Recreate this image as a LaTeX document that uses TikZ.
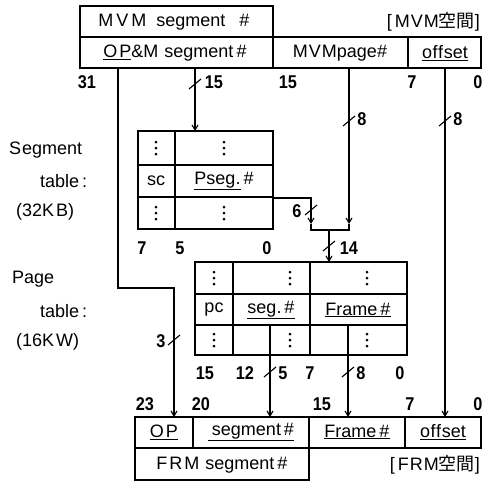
\documentclass[tikz,border=0pt]{standalone}
\usepackage{fontspec}
\setmainfont{Liberation Sans}
\newfontfamily\cjk{Noto Sans CJK JP}
\newfontfamily\nf[FakeStretch=0.88]{Liberation Sans}
\usetikzlibrary{arrows.meta}
\tikzset{
  box/.style={draw, line width=1.4pt},
  lbl/.style={font=\fontsize{18}{18}\selectfont, inner sep=0pt},
  num/.style={font=\fontsize{18.5}{18.5}\selectfont\nf\bfseries, inner sep=0pt},
  wire/.style={line width=1.1pt},
  arr/.style={wire,-{Straight Barb[length=5pt,width=6pt]}},
  dotthree/.pic={\fill (0,-6) circle (1.5) (0,0) circle (1.5) (0,6) circle (1.5);},
  bustick/.pic={\draw[line width=1.1pt] (-6,5) -- (6,-5);},
}
\begin{document}
\begin{tikzpicture}[x=1pt,y=-1pt]
\useasboundingbox (0,0) rectangle (488,482);
% ---------- MVM address ----------
\draw[box] (80,6) rectangle (273,37);
\draw[box] (80,37) rectangle (481,68);
\draw[box] (273,37) -- (273,68) (408,37) -- (408,68);
\node[lbl] (mvmseg) at (174,22) {M\hspace{3pt}V\hspace{3pt}M\hspace{10pt}segment\hspace{14pt}\#};
\node[lbl,anchor=east] (mvmsp) at (480,22) {[\,M\hspace{1pt}V\hspace{1pt}M{\cjk 空間}]};
\node[lbl] (opm) at (175,53) {\underline{O\hspace{2pt}P}\&M\hspace{6pt}segment\,\#};
\node[lbl] (mvmpg) at (340,53) {M\hspace{1pt}V\hspace{1pt}Mpage\#};
\node[lbl] (moff) at (445,53) {\underline{o\hspace{0.5pt}f\hspace{0.5pt}f\hspace{0.5pt}set}};
\node[num] (b31) at (87,82) {31};
\node[num] (b15a) at (214,82) {15};
\node[num] (b15b) at (288,82) {15};
\node[num] (b7a) at (412,82) {7};
\node[num] (b0a) at (478,82) {0};
% ---------- left labels ----------
\node[lbl,anchor=west] (segl1) at (9,150) {S\hspace{1pt}egment};
\node[lbl,anchor=west] (segl2) at (40,181) {table\hspace{3pt}:};
\node[lbl,anchor=west] (segl3) at (16,212) {(32K\hspace{2pt}B)};
\node[lbl,anchor=west] (pgl1) at (12,279) {Page};
\node[lbl,anchor=west] (pgl2) at (40,311) {table\hspace{3pt}:};
\node[lbl,anchor=west] (pgl3) at (16,342) {(16K\hspace{2pt}W)};
% ---------- segment table ----------
\draw[box] (138,131) rectangle (273,229);
\draw[box] (138,165) -- (273,165) (138,197) -- (273,197) (175,131) -- (175,229);
\pic at (156,148) {dotthree};
\pic at (224,148) {dotthree};
\pic at (156,213) {dotthree};
\pic at (224,213) {dotthree};
\node[lbl] (sc) at (156,181) {sc};
\node[lbl] (pseg) at (224,181) {\underline{Pseg.}\,\#};
\node[num] (s7) at (142,248) {7};
\node[num] (s5) at (180,248) {5};
\node[num] (s0) at (267,248) {0};
% ---------- page table ----------
\draw[box] (195,262) rectangle (407,355);
\draw[box] (195,294) -- (407,294) (195,325) -- (407,325) (233,262) -- (233,355) (310,262) -- (310,355);
\pic at (214,278) {dotthree};
\pic at (290,278) {dotthree};
\pic at (367,278) {dotthree};
\pic at (214,340) {dotthree};
\pic at (290,340) {dotthree};
\pic at (367,340) {dotthree};
\node[lbl] (pc) at (214,310) {pc};
\node[lbl] (pgseg) at (271,310) {\underline{seg.\,\#}};
\node[lbl] (pgfr) at (358,310) {\underline{Frame\,\#}};
\node[num] (p15) at (205,373) {15};
\node[num] (p12) at (245,373) {12};
\node[num] (p5) at (283,373) {5};
\node[num] (p7) at (310,373) {7};
\node[num] (p8) at (361,373) {8};
\node[num] (p0) at (400,373) {0};
% ---------- FRM address ----------
\draw[box] (135,417) rectangle (481,448);
\draw[box] (193,417) -- (193,448) (309,417) -- (309,448) (405,417) -- (405,448);
\draw[box] (135,448) -- (135,480) -- (309,480) -- (309,448);
\node[lbl] (fop) at (164,432) {\underline{O\hspace{2pt}P}};
\node[lbl] (fseg) at (251,432) {\underline{\hspace{4pt}segment\,\#}};
\node[lbl] (ffr) at (357,432) {\underline{Frame\,\#}};
\node[lbl] (foff) at (443,432) {\underline{o\hspace{0.5pt}f\hspace{0.5pt}f\hspace{0.5pt}set}};
\node[lbl] (frmseg) at (222,465) {F\hspace{2pt}R\hspace{2pt}M\hspace{6pt}segment\,\#};
\node[lbl,anchor=east] (frmsp) at (480,465) {[\,F\hspace{1pt}R\hspace{1pt}M{\cjk 空間}]};
\node[num] (f23) at (145,404) {23};
\node[num] (f20) at (201,404) {20};
\node[num] (f15) at (322,404) {15};
\node[num] (f7) at (410,404) {7};
\node[num] (f0) at (478,404) {0};
% ---------- connectors ----------
\coordinate (opTop) at (118,68);
\coordinate (opBend1) at (118,288);
\coordinate (opBend2) at (174,288);
\coordinate (opEnd) at (174,417);
\draw[arr] (opTop) -- (opBend1) -- (opBend2) -- (opEnd);
\pic at (174,340) {bustick};
\node[num] (w3) at (161,341) {3};

\coordinate (sgTop) at (195,68);
\coordinate (sgEnd) at (195,131);
\draw[arr] (sgTop) -- (sgEnd);
\pic at (195,84) {bustick};

\coordinate (pgTop) at (349,68);
\coordinate (pgArr) at (349,224);
\coordinate (busR) at (349,230);
\draw[arr] (pgTop) -- (pgArr);
\pic at (349,121) {bustick};
\node[num] (w8a) at (362,119) {8};

\coordinate (ofTop) at (445,68);
\coordinate (ofEnd) at (445,417);
\draw[arr] (ofTop) -- (ofEnd);
\pic at (445,121) {bustick};
\node[num] (w8b) at (458,119) {8};

\coordinate (psOut) at (273,198);
\coordinate (psBend) at (311,198);
\coordinate (psArr) at (311,224);
\coordinate (busL) at (311,230);
\draw[arr] (psOut) -- (psBend) -- (psArr);
\pic at (311,210) {bustick};
\node[num] (w6) at (297,211) {6};
\draw[wire] (psArr) -- (busL) -- (busR) -- (pgArr);

\coordinate (busM) at (329,230);
\coordinate (busEnd) at (329,262);
\draw[arr] (busM) -- (busEnd);
\pic at (329,246) {bustick};
\node[num] (w14) at (349,248) {14};

\coordinate (sfTop) at (270,325);
\coordinate (sfEnd) at (270,417);
\draw[arr] (sfTop) -- (sfEnd);
\pic at (270,372) {bustick};

\coordinate (frTop) at (348,325);
\coordinate (frEnd) at (348,417);
\draw[arr] (frTop) -- (frEnd);
\pic at (348,372) {bustick};
\end{tikzpicture}
\end{document}
